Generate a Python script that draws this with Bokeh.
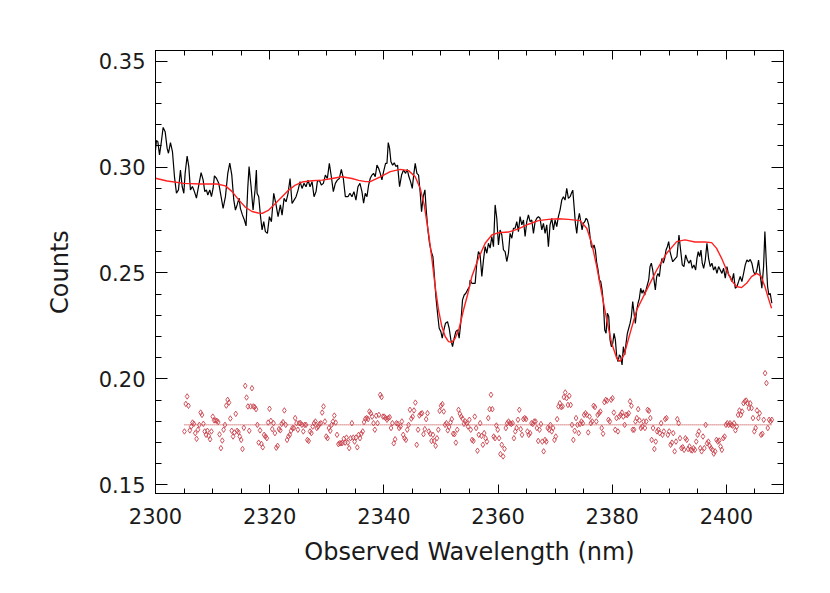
import numpy as np
from bokeh.plotting import figure
from bokeh.models import Range1d, LinearAxis, FixedTicker, NumeralTickFormatter
from bokeh.embed import file_html
from bokeh.resources import INLINE

# ---------------- data ----------------
spec_wl = [
    2300.00, 2300.17, 2300.41, 2300.70, 2300.99, 2301.34, 2301.69, 2302.04, 2302.27, 2302.62,
    2302.97, 2303.32, 2303.67, 2304.02, 2304.37, 2304.67, 2304.96, 2305.19, 2305.54, 2305.83,
    2306.12, 2306.47, 2306.82, 2307.17, 2307.58, 2307.99, 2308.34, 2308.63, 2308.92, 2309.16,
    2309.51, 2309.80, 2310.09, 2310.32, 2310.67, 2311.08, 2311.49, 2311.84, 2312.25, 2312.66,
    2313.01, 2313.36, 2313.71, 2314.00, 2314.29, 2314.64, 2314.87, 2315.22, 2315.57, 2315.86,
    2316.16, 2316.39, 2316.74, 2317.09, 2317.44, 2317.67,
    2317.79, 2318.08, 2318.37, 2318.67, 2318.96, 2319.25, 2319.60, 2319.95, 2320.30, 2320.71,
    2321.12, 2321.47, 2321.87, 2322.17, 2322.52, 2322.87, 2323.22, 2323.57, 2323.92, 2324.27,
    2324.62, 2324.97, 2325.32, 2325.67, 2326.02, 2326.37, 2326.72, 2327.07, 2327.42, 2327.77,
    2328.12, 2328.35, 2328.70, 2329.05, 2329.40, 2329.75, 2330.10, 2330.45, 2330.80, 2331.15,
    2331.50, 2331.85, 2332.20, 2332.55, 2332.90, 2333.25, 2333.71, 2334.06, 2334.41, 2334.76,
    2335.11, 2335.46, 2335.81,
    2336.16, 2336.45, 2336.74, 2337.04, 2337.33, 2337.62, 2337.91, 2338.20, 2338.49, 2338.79,
    2339.08, 2339.37, 2339.66, 2339.95, 2340.30, 2340.54, 2340.77, 2341.00, 2341.24, 2341.53,
    2341.82, 2342.11, 2342.40, 2342.75, 2343.10, 2343.45, 2343.80, 2344.09, 2344.39, 2344.68,
    2344.97, 2345.26, 2345.49, 2345.79, 2346.08, 2346.37, 2346.60, 2346.89, 2347.19, 2347.42,
    2347.71, 2348.00, 2348.29, 2348.59, 2348.82, 2349.11, 2349.40, 2349.69, 2349.99, 2350.22,
    2350.51, 2350.80, 2351.15, 2351.44, 2351.74, 2352.03, 2352.32, 2352.61, 2352.90, 2353.19,
    2353.49, 2353.78, 2354.07, 2354.36, 2354.65, 2355.00,
    2355.11, 2355.41, 2355.70, 2355.99, 2356.28, 2356.57, 2356.86, 2357.16, 2357.45, 2357.74,
    2358.03, 2358.32, 2358.61, 2358.91, 2359.20, 2359.49, 2359.78, 2360.07, 2360.36, 2360.66,
    2360.95, 2361.24, 2361.53, 2361.82, 2362.11, 2362.41, 2362.70, 2362.99, 2363.28, 2363.57,
    2363.86, 2364.16, 2364.45, 2364.74, 2365.03, 2365.32, 2365.61, 2365.91, 2366.20, 2366.49,
    2366.78, 2367.07, 2367.36, 2367.66, 2367.95, 2368.24, 2368.53, 2368.82, 2369.11, 2369.41,
    2369.70, 2369.99, 2370.28, 2370.57, 2370.86, 2371.16, 2371.45, 2371.74, 2372.03, 2372.32,
    2372.62, 2372.85, 2373.09, 2373.32, 2373.55, 2373.79, 2374.02, 2374.25, 2374.49, 2374.72,
    2374.95, 2375.19, 2375.42, 2375.65, 2375.89, 2376.12, 2376.35, 2376.59, 2376.82, 2377.05,
    2377.29, 2377.52, 2377.75, 2377.99, 2378.22, 2378.45, 2378.69, 2378.92, 2379.15, 2379.39,
    2379.62, 2379.85, 2380.09, 2380.32, 2380.55, 2380.79, 2381.02, 2381.25, 2381.49, 2381.72,
    2381.95, 2382.19, 2382.42, 2382.65, 2382.89, 2383.12, 2383.35, 2383.59, 2383.82, 2384.05,
    2384.29, 2384.52, 2384.75, 2384.99, 2385.22, 2385.45, 2385.69, 2385.92, 2386.15, 2386.39,
    2386.62, 2386.85, 2387.09, 2387.32, 2387.55, 2387.79, 2388.02, 2388.25, 2388.49, 2388.72,
    2388.95, 2389.19, 2389.42, 2389.65, 2389.89, 2390.12, 2390.35, 2390.59, 2390.82,
    2391.34, 2391.69, 2391.98, 2392.27, 2392.56, 2392.86, 2393.15, 2393.44, 2393.73, 2394.02,
    2394.31, 2394.61, 2394.84, 2395.07, 2395.31, 2395.54, 2395.77, 2396.01, 2396.30, 2396.59,
    2396.88, 2397.17, 2397.46, 2397.76, 2398.05, 2398.34, 2398.63, 2398.92, 2399.21, 2399.51,
    2399.80, 2400.09, 2400.38, 2400.67, 2400.96, 2401.26, 2401.55, 2401.84, 2402.13, 2402.42,
    2402.71, 2403.01, 2403.30, 2403.59, 2403.88, 2404.17, 2404.46, 2404.76, 2405.05, 2405.34,
    2405.63, 2405.92, 2406.21, 2406.51, 2406.74, 2406.97, 2407.21, 2407.44, 2407.67, 2407.96,
]
spec_counts = [
    0.3080, 0.3125, 0.3120, 0.3057, 0.3112, 0.3187, 0.3167, 0.3088, 0.3065, 0.3115,
    0.3073, 0.2955, 0.2876, 0.2892, 0.2986, 0.2908, 0.2876, 0.2970, 0.3052, 0.3002,
    0.2892, 0.2908, 0.2884, 0.2853, 0.2915, 0.2974, 0.2939, 0.2884, 0.2892, 0.2868,
    0.2892, 0.2860, 0.2900, 0.2958, 0.2947, 0.2923, 0.2860, 0.2805, 0.2860, 0.2970,
    0.3018, 0.2963, 0.2845, 0.2797, 0.2821, 0.2853, 0.2805, 0.2774, 0.2750, 0.2722,
    0.2900, 0.3002, 0.2908, 0.2797, 0.2892, 0.2986,
    0.2876, 0.2860, 0.2773, 0.2703, 0.2742, 0.2695, 0.2687, 0.2766, 0.2742, 0.2876,
    0.2821, 0.2766, 0.2821, 0.2773, 0.2852, 0.2836, 0.2876, 0.2946, 0.2828, 0.2844,
    0.2860, 0.2891, 0.2931, 0.2899, 0.2923, 0.2907, 0.2938, 0.2907, 0.2931, 0.2860,
    0.2884, 0.2931, 0.2938, 0.2915, 0.2923, 0.2962, 0.2946, 0.3017, 0.2954, 0.2884,
    0.2923, 0.2938, 0.2946, 0.2989, 0.2946, 0.2860, 0.2860, 0.2876, 0.2860, 0.2884,
    0.2844, 0.2907, 0.2923,
    0.2884, 0.2829, 0.2876, 0.2860, 0.2915, 0.2947, 0.2962, 0.2970, 0.2954, 0.3009,
    0.2994, 0.2970, 0.2939, 0.2978, 0.3017, 0.3017, 0.3115, 0.3088, 0.3025, 0.3009,
    0.3020, 0.3002, 0.3009, 0.2907, 0.2962, 0.2986, 0.2970, 0.2989, 0.2954, 0.2931,
    0.2899, 0.2970, 0.3017, 0.2970, 0.2962, 0.2876, 0.2789, 0.2860, 0.2892, 0.2797,
    0.2703, 0.2640, 0.2601, 0.2577, 0.2498, 0.2388, 0.2310, 0.2239, 0.2223, 0.2192,
    0.2231, 0.2263, 0.2270, 0.2239, 0.2184, 0.2152, 0.2192, 0.2223, 0.2231, 0.2192,
    0.2270, 0.2373, 0.2396, 0.2404, 0.2420, 0.2435,
    0.2467, 0.2451, 0.2451, 0.2451, 0.2546, 0.2601, 0.2585, 0.2483, 0.2562, 0.2624,
    0.2593, 0.2640, 0.2617, 0.2672, 0.2624, 0.2821, 0.2758, 0.2632, 0.2703, 0.2679,
    0.2609, 0.2601, 0.2554, 0.2593, 0.2687, 0.2664, 0.2711, 0.2711, 0.2742, 0.2695,
    0.2766, 0.2727, 0.2750, 0.2672, 0.2742, 0.2774, 0.2742, 0.2750, 0.2687, 0.2742,
    0.2758, 0.2766, 0.2758, 0.2703, 0.2734, 0.2687, 0.2727, 0.2624, 0.2727, 0.2758,
    0.2703, 0.2750, 0.2719, 0.2766, 0.2797, 0.2844, 0.2860, 0.2844, 0.2899, 0.2852,
    0.2860, 0.2876, 0.2891, 0.2813, 0.2734, 0.2687, 0.2750, 0.2781, 0.2742, 0.2703,
    0.2734, 0.2742, 0.2758, 0.2750, 0.2726, 0.2671, 0.2624, 0.2616, 0.2632, 0.2608,
    0.2546, 0.2514, 0.2467, 0.2459, 0.2420, 0.2357, 0.2231, 0.2215, 0.2310, 0.2294,
    0.2184, 0.2152, 0.2168, 0.2215, 0.2184, 0.2105, 0.2082, 0.2113, 0.2105, 0.2066,
    0.2152, 0.2113, 0.2168, 0.2215, 0.2239, 0.2262, 0.2294, 0.2365, 0.2310, 0.2262,
    0.2325, 0.2357, 0.2380, 0.2428, 0.2404, 0.2420, 0.2396, 0.2420, 0.2443, 0.2467,
    0.2530, 0.2546, 0.2514, 0.2467, 0.2420, 0.2483, 0.2498, 0.2483, 0.2538, 0.2569,
    0.2546, 0.2569, 0.2608, 0.2624, 0.2648, 0.2601, 0.2577, 0.2553, 0.2561,
    0.2577, 0.2679, 0.2608, 0.2538, 0.2530, 0.2585, 0.2561, 0.2546, 0.2561, 0.2522,
    0.2538, 0.2514, 0.2569, 0.2601, 0.2577, 0.2608, 0.2546, 0.2522, 0.2561, 0.2640,
    0.2569, 0.2530, 0.2546, 0.2514, 0.2530, 0.2498, 0.2530, 0.2514, 0.2498, 0.2522,
    0.2475, 0.2530, 0.2491, 0.2483, 0.2459, 0.2498, 0.2428, 0.2436, 0.2459, 0.2483,
    0.2459, 0.2498, 0.2538, 0.2561, 0.2553, 0.2564, 0.2546, 0.2506, 0.2491, 0.2514,
    0.2561, 0.2491, 0.2428, 0.2530, 0.2695, 0.2561, 0.2436, 0.2396, 0.2404, 0.2357,
]

model_wl = [
    2300.00, 2302.04, 2304.96, 2307.87, 2310.79, 2312.25, 2313.42, 2314.58, 2315.75, 2316.91,
    2318.00, 2318.70, 2319.83, 2321.00, 2322.17, 2323.33, 2324.50, 2325.67, 2327.42, 2329.17,
    2330.92, 2332.66, 2334.41, 2335.58, 2336.80, 2337.62, 2339.37, 2341.12, 2342.87, 2344.33,
    2345.49, 2346.37, 2347.07, 2347.83, 2348.41, 2348.99, 2349.58, 2350.16, 2350.74, 2351.33,
    2351.91, 2352.49, 2353.19, 2353.95, 2354.65, 2355.41, 2356.57, 2357.74, 2358.91, 2360.07,
    2361.82, 2363.57, 2365.32, 2367.07, 2368.82, 2370.57, 2372.32, 2374.37, 2375.54, 2376.41,
    2377.29, 2378.16, 2379.04, 2379.91, 2380.79, 2381.37, 2382.07, 2383.12, 2384.29, 2386.04,
    2387.79, 2389.54, 2391.29, 2392.74, 2394.49, 2396.24, 2397.41, 2398.28, 2399.16, 2400.03,
    2400.91, 2401.78, 2402.66, 2403.53, 2404.40, 2405.28, 2406.04, 2406.74, 2407.44, 2407.91,
]
model_counts = [
    0.2947, 0.2934, 0.2923, 0.2920, 0.2920, 0.2911, 0.2884, 0.2845, 0.2810, 0.2790,
    0.2783, 0.2781, 0.2797, 0.2828, 0.2860, 0.2891, 0.2915, 0.2929, 0.2935, 0.2938,
    0.2946, 0.2954, 0.2946, 0.2937, 0.2931, 0.2931, 0.2954, 0.2978, 0.2989, 0.2983,
    0.2954, 0.2899, 0.2821, 0.2687, 0.2569, 0.2435, 0.2325, 0.2247, 0.2200, 0.2176,
    0.2173, 0.2192, 0.2239, 0.2325, 0.2396, 0.2483, 0.2569, 0.2640, 0.2679, 0.2690,
    0.2693, 0.2708, 0.2730, 0.2747, 0.2753, 0.2756, 0.2753, 0.2747, 0.2711, 0.2640,
    0.2530, 0.2404, 0.2278, 0.2168, 0.2097, 0.2082, 0.2113, 0.2215, 0.2325, 0.2420,
    0.2514, 0.2593, 0.2648, 0.2656, 0.2646, 0.2646, 0.2643, 0.2616, 0.2569, 0.2514,
    0.2464, 0.2436, 0.2431, 0.2451, 0.2483, 0.2498, 0.2486, 0.2436, 0.2373, 0.2333,
]

# residuals (offset), evenly sampled between RESID_START and RESID_END
RESID_START = 2305.07
RESID_END = 2407.96
RESID_BASE = 0.1783
resid_counts = [
    0.1752, 0.1882, 0.1917, 0.1873, 0.1757, 0.1775, 0.1794, 0.1788, 0.1744, 0.1717,
    0.1760, 0.1783, 0.1841, 0.1830, 0.1788, 0.1752, 0.1736, 0.1755, 0.1731, 0.1715,
    0.1752, 0.1822, 0.1804, 0.1804, 0.1802, 0.1796, 0.1738, 0.1673, 0.1709, 0.1760,
    0.1783, 0.1874, 0.1901, 0.1888, 0.1813, 0.1755, 0.1728, 0.1747, 0.1835, 0.1755,
    0.1749, 0.1728, 0.1712, 0.1669, 0.1769, 0.1967, 0.1912, 0.1870, 0.1755, 0.1870,
    0.1956, 0.1870, 0.1867, 0.1857, 0.1783, 0.1699, 0.1757, 0.1693, 0.1677, 0.1736,
    0.1728, 0.1720, 0.1794, 0.1859, 0.1802, 0.1763, 0.1791, 0.1744, 0.1675, 0.1684,
    0.1763, 0.1757, 0.1788, 0.1796, 0.1851, 0.1783, 0.1712, 0.1728, 0.1736, 0.1755,
    0.1768, 0.1768, 0.1815, 0.1791, 0.1760, 0.1791, 0.1791, 0.1783, 0.1752, 0.1783,
    0.1783, 0.1712, 0.1707, 0.1752, 0.1744, 0.1775, 0.1791, 0.1799, 0.1768, 0.1775,
    0.1787, 0.1791, 0.1841, 0.1870, 0.1799, 0.1728, 0.1720, 0.1768, 0.1755, 0.1783,
    0.1799, 0.1827, 0.1794, 0.1736, 0.1692, 0.1696, 0.1696, 0.1698, 0.1717, 0.1699,
    0.1723, 0.1699, 0.1673, 0.1720, 0.1791, 0.1723, 0.1704, 0.1723, 0.1677, 0.1736,
    0.1720, 0.1741, 0.1752, 0.1796, 0.1812, 0.1815, 0.1810, 0.1846, 0.1838, 0.1822,
    0.1791, 0.1760, 0.1826, 0.1791, 0.1830, 0.1925, 0.1914, 0.1822, 0.1822, 0.1815,
    0.1807, 0.1815, 0.1819, 0.1768, 0.1791, 0.1696, 0.1715, 0.1791, 0.1788, 0.1768,
    0.1775, 0.1799, 0.1736, 0.1720, 0.1712, 0.1760, 0.1783, 0.1854, 0.1812, 0.1822,
    0.1851, 0.1888, 0.1689, 0.1760, 0.1827, 0.1835, 0.1838, 0.1739, 0.1763, 0.1810,
    0.1838, 0.1752, 0.1741, 0.1707, 0.1736, 0.1707, 0.1684, 0.1720, 0.1760, 0.1849,
    0.1873, 0.1881, 0.1846, 0.1783, 0.1791, 0.1757, 0.1773, 0.1794, 0.1810, 0.1741,
    0.1739, 0.1699, 0.1760, 0.1854, 0.1835, 0.1822, 0.1812, 0.1788, 0.1799,
    0.1791, 0.1775, 0.1807, 0.1760, 0.1712, 0.1707, 0.1822, 0.1768, 0.1661, 0.1736,
    0.1791, 0.1731, 0.1689, 0.1744, 0.1720, 0.1704, 0.1815, 0.1857, 0.1925, 0.1857,
    0.1728, 0.1720, 0.1780, 0.1760, 0.1720, 0.1645, 0.1689, 0.1634, 0.1670, 0.1768,
    0.1791, 0.1799, 0.1791, 0.1787, 0.1791, 0.1720, 0.1752, 0.1768, 0.1807, 0.1854,
    0.1763, 0.1736, 0.1810, 0.1815, 0.1810, 0.1752, 0.1736, 0.1744, 0.1791, 0.1787,
    0.1799, 0.1799, 0.1768, 0.1707, 0.1760, 0.1787, 0.1704, 0.1658, 0.1712, 0.1704,
    0.1768, 0.1760, 0.1783, 0.1752, 0.1768, 0.1712, 0.1728, 0.1810, 0.1870, 0.1885,
    0.1867, 0.1870, 0.1914, 0.1936, 0.1909, 0.1877, 0.1920, 0.1877, 0.1783, 0.1712,
    0.1755, 0.1815, 0.1783, 0.1744, 0.1787, 0.1799, 0.1791, 0.1830, 0.1838, 0.1830,
    0.1747, 0.1822, 0.1791, 0.1799, 0.1873, 0.1867, 0.1799, 0.1830, 0.1838, 0.1846,
    0.1768, 0.1741, 0.1890, 0.1901, 0.1897, 0.1807, 0.1799, 0.1901, 0.1909, 0.1841,
    0.1760, 0.1815, 0.1752, 0.1822, 0.1830, 0.1841, 0.1822, 0.1783, 0.1830, 0.1830,
    0.1838, 0.1894, 0.1873, 0.1760, 0.1760, 0.1799, 0.1815, 0.1857, 0.1804, 0.1768,
    0.1775, 0.1799, 0.1768, 0.1799, 0.1854, 0.1849, 0.1815, 0.1712, 0.1768, 0.1669,
    0.1704, 0.1752, 0.1760, 0.1744, 0.1791, 0.1736, 0.1752, 0.1810, 0.1815, 0.1736,
    0.1752, 0.1689, 0.1699, 0.1744, 0.1658, 0.1704, 0.1810, 0.1791, 0.1720, 0.1673,
    0.1678, 0.1665, 0.1720, 0.1712, 0.1669, 0.1681, 0.1665, 0.1662, 0.1673, 0.1665,
    0.1704, 0.1736, 0.1752, 0.1673, 0.1658, 0.1728, 0.1673, 0.1783, 0.1696, 0.1704,
    0.1684, 0.1673, 0.1665, 0.1647, 0.1658, 0.1712, 0.1704, 0.1709, 0.1681, 0.1665,
    0.1720, 0.1728, 0.1783, 0.1791, 0.1783, 0.1791, 0.1783, 0.1779, 0.1791, 0.1757,
    0.1775, 0.1830, 0.1851, 0.1830, 0.1846, 0.1885, 0.1894, 0.1898, 0.1885, 0.1862,
    0.1885, 0.1862, 0.1815, 0.1752, 0.1768, 0.1851, 0.1815, 0.1838, 0.1736, 0.1741,
    0.1807, 0.2027, 0.1980, 0.1768, 0.1807, 0.1799, 0.1807,
]
resid_wl = np.linspace(RESID_START, RESID_END, len(resid_counts))

x_major = [2300, 2320, 2340, 2360, 2380, 2400]
x_minor = list(range(2300, 2411, 5))
y_major = [0.15, 0.20, 0.25, 0.30, 0.35]
y_minor = [round(0.14 + 0.01 * i, 2) for i in range(23)]

X_RANGE = (2300, 2410)
Y_RANGE = (0.1459, 0.3550)

# ---------------- figure ----------------
FONT = "DejaVu Sans"
TEXT_COLOR = "#1a1a1a"
p = figure(frame_width=628, frame_height=443,
           x_range=Range1d(*X_RANGE), y_range=Range1d(*Y_RANGE),
           min_border_left=155, min_border_right=40, min_border_top=50, min_border_bottom=90,
           output_backend="svg", toolbar_location=None,
           x_axis_label="Observed Wavelength (nm)", y_axis_label="Counts")
p.grid.visible = False
p.outline_line_color = "black"
p.outline_line_width = 1
p.background_fill_color = "white"
p.border_fill_color = "white"

xt = FixedTicker(ticks=x_major, minor_ticks=x_minor)
yt = FixedTicker(ticks=y_major, minor_ticks=y_minor)

def style_axis(ax, tick_in, minor_in, show_labels=True):
    ax.major_tick_in = tick_in
    ax.major_tick_out = 0
    ax.minor_tick_in = minor_in
    ax.minor_tick_out = 0
    ax.major_tick_line_color = "black"
    ax.minor_tick_line_color = "black"
    ax.axis_line_color = "black"
    ax.major_label_text_font = FONT
    ax.major_label_text_font_size = "21px"
    ax.major_label_text_color = TEXT_COLOR if show_labels else None
    ax.axis_label_text_font = FONT
    ax.axis_label_text_font_size = "24px"
    ax.axis_label_text_font_style = "normal"
    ax.axis_label_text_color = TEXT_COLOR

xa = p.xaxis[0]
xa.ticker = xt
style_axis(xa, 9, 5)
xa.major_label_standoff = 14
xa.axis_label_standoff = 11

ya = p.yaxis[0]
ya.ticker = yt
ya.formatter = NumeralTickFormatter(format="0.00")
style_axis(ya, 12, 6)
ya.major_label_standoff = 10
ya.axis_label_standoff = 22

top = LinearAxis(ticker=xt)
style_axis(top, 9, 5, show_labels=False)
top.major_label_standoff = 0
p.add_layout(top, "above")

right = LinearAxis(ticker=yt)
style_axis(right, 12, 6, show_labels=False)
right.major_label_standoff = 0
p.add_layout(right, "right")

# residual baseline and points
p.line([RESID_START, RESID_END], [RESID_BASE, RESID_BASE],
       line_color="#d07070", line_width=1.5, line_dash="1 1")
p.scatter(resid_wl, resid_counts, marker="diamond", size=5.5,
          line_color="#c8414b", fill_color=None, line_width=0.9)

# spectrum and model
p.line(spec_wl, spec_counts, line_color="black", line_width=1.2)
p.line(model_wl, model_counts, line_color="#ff2020", line_width=1.4)

open("out.html", "w").write(file_html(p, INLINE))
